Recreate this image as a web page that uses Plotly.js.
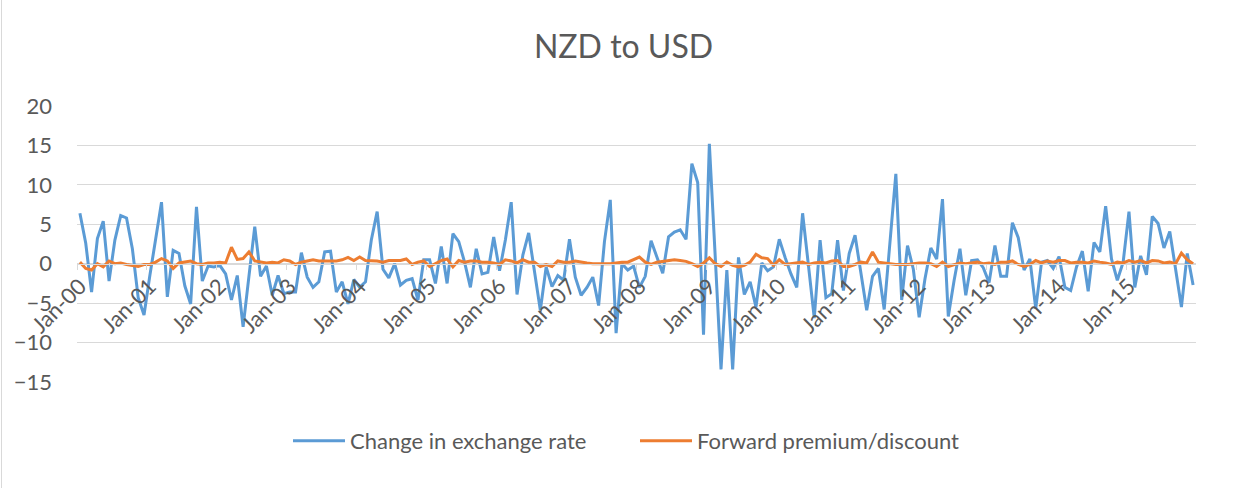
<!DOCTYPE html>
<html>
<head>
<meta charset="utf-8">
<script src="https://cdn.plot.ly/plotly-3.0.1.min.js"></script>
<style>
html,body{margin:0;padding:0;background:#ffffff;}
#wrap{position:relative;width:1247px;height:488px;}
#chart{width:1247px;height:488px;}
#edge{position:absolute;left:1px;top:0;width:1px;height:488px;background:#d9d9d9;pointer-events:none;}
</style>
</head>
<body>
<div id="wrap"><div id="chart"></div><div id="edge"></div></div>
<script>
const monthNames = ['Jan','Feb','Mar','Apr','May','Jun','Jul','Aug','Sep','Oct','Nov','Dec'];
const years = ['00','01','02','03','04','05','06','07','08','09','10','11','12','13','14','15'];
const categories = [];
years.forEach(y => monthNames.forEach(m => categories.push(m + '-' + y)));

const tickLabels = ['Jan-00','Jan-01','Jan-02','Jan-03','Jan-04','Jan-05','Jan-06','Jan-07',
                    'Jan-08','Jan-09','Jan-10','Jan-11','Jan-12','Jan-13','Jan-14','Jan-15'];

const changeInRate = [
  6.4,2.6,-3.6,3.2,5.4,-2.2,3.0,6.1,5.8,1.9,-4.3,-6.5,
  -1.5,3.2,7.8,-4.2,1.7,1.3,-2.8,-5.1,7.2,-2.2,-0.3,-0.4,
  -0.2,-1.3,-4.6,-1.5,-8.0,-1.6,4.7,-1.6,-0.3,-4.0,-1.5,-3.8,
  -3.6,-3.6,1.4,-1.7,-3.0,-2.3,1.5,1.6,-3.6,-2.3,-5.1,-2.0,
  -3.0,-2.3,3.0,6.6,-0.7,-1.8,0.0,-2.7,-2.1,-1.9,-4.6,0.5,
  0.5,-2.5,2.2,-2.5,3.8,2.8,0.2,-3.0,1.9,-1.3,-1.1,3.4,
  -0.9,3.0,7.8,-3.9,1.1,3.9,-0.8,-5.9,-0.4,-2.9,-1.5,-2.1,
  3.1,-1.7,-4.0,-3.0,-1.7,-5.3,2.8,8.1,-8.8,0.0,-0.8,-0.3,
  -3.0,-1.6,2.9,0.9,-1.2,3.4,4.0,4.3,3.1,12.7,10.3,-9.0,
  15.2,1.0,-13.4,-0.8,-13.4,0.8,-3.9,-2.3,-5.5,0.1,-0.9,-0.4,
  3.1,0.8,-1.3,-3.0,6.4,-0.2,-6.9,3.0,-4.3,-3.8,3.0,-3.4,
  1.3,3.6,-1.3,-5.9,-1.6,-0.6,-5.8,3.0,11.4,-4.6,2.3,-0.7,
  -6.8,-1.9,2.0,0.6,8.2,-6.7,-2.1,1.9,-4.0,0.4,0.5,-0.5,
  -2.4,2.3,-1.6,-1.6,5.2,3.3,-0.8,0.6,-5.7,0.2,0.4,-0.6,
  0.9,-3.0,-3.4,-0.4,1.6,-3.5,2.7,1.5,7.3,0.6,-2.1,0.2,
  6.6,-3.0,1.0,-1.4,6.0,5.1,2.0,4.1,-0.6,-5.5,1.3,-2.7
];

const forwardPremium = [
  0.2,-0.6,-0.8,0.0,-0.4,0.35,0.0,0.1,-0.1,-0.2,-0.35,-0.1,
  -0.1,0.2,0.65,0.35,-0.6,0.1,0.2,0.35,0.0,-0.1,0.1,0.1,
  0.2,0.1,2.1,0.55,0.65,1.5,0.35,0.2,0.1,0.2,0.1,0.5,
  0.35,-0.1,0.2,0.35,0.5,0.35,0.35,0.35,0.35,0.5,0.8,0.4,
  0.85,0.4,0.35,0.35,0.2,0.4,0.4,0.4,0.6,-0.1,0.2,0.35,
  -0.35,0.0,0.4,0.6,-0.4,0.4,0.2,0.35,0.35,0.2,0.2,0.1,
  -0.1,0.5,0.35,0.1,0.5,0.2,0.2,-0.35,-0.1,-0.35,0.35,0.2,
  0.2,0.35,0.2,0.1,0.0,0.0,0.0,0.0,0.1,0.2,0.2,0.5,
  0.85,0.2,-0.1,0.2,0.3,0.35,0.5,0.4,0.3,0.0,-0.35,0.1,
  0.75,0.0,-0.35,0.2,-0.2,-0.4,-0.2,0.2,1.2,0.75,0.65,-0.2,
  0.5,-0.1,0.0,0.1,0.2,-0.1,0.1,0.2,0.1,0.35,0.4,-0.35,
  -0.35,-0.1,0.2,0.1,1.5,0.2,0.1,0.0,-0.1,-0.1,-0.1,0.0,
  0.1,0.1,0.0,-0.35,0.2,-0.35,-0.1,0.1,0.0,0.1,0.2,0.0,
  0.1,-0.1,0.2,0.2,0.35,-0.1,-0.35,-0.1,0.4,0.1,0.35,0.2,
  0.4,0.4,0.1,0.2,0.2,0.1,0.35,0.2,0.1,-0.1,0.2,0.1,
  0.4,0.2,0.4,0.1,0.4,0.35,0.1,0.2,0.0,1.35,0.5,0.0
];

const yMin = -15, yMax = 20;
const textColor = '#595959';
const fontFamily = 'Lato, "Open Sans", sans-serif';

const traces = [
  {
    x: categories, y: changeInRate, type: 'scatter', mode: 'lines',
    name: 'Change in exchange rate',
    line: {color: '#5B9BD5', width: 3}
  },
  {
    x: categories, y: forwardPremium, type: 'scatter', mode: 'lines',
    name: 'Forward premium/discount',
    line: {color: '#ED7D31', width: 3}
  }
];

const layout = {
  width: 1247, height: 488,
  paper_bgcolor: '#ffffff', plot_bgcolor: '#ffffff',
  margin: {l: 77, r: 51, t: 106, b: 106, pad: 0},
  font: {family: fontFamily, color: textColor, size: 22},
  title: {
    text: 'NZD to USD',
    font: {family: fontFamily, size: 32, color: textColor, weight: 400},
    x: 0.5, xref: 'container', xanchor: 'center',
    y: 1 - 47/488, yref: 'container', yanchor: 'middle'
  },
  xaxis: {
    type: 'category',
    range: [-0.5, categories.length - 0.5],
    tickmode: 'array', tickvals: tickLabels, ticktext: tickLabels,
    tickangle: -45,
    tickson: 'boundaries',
    ticks: 'outside', ticklen: 5, tickcolor: '#d9d9d9', tickwidth: 1,
    showgrid: false, zeroline: false,
    showline: true, linecolor: '#d9d9d9', linewidth: 1,
    anchor: 'free', position: (0 - yMin) / (yMax - yMin),
    tickfont: {family: fontFamily, size: 22, color: textColor},
    fixedrange: true
  },
  yaxis: {
    range: [yMin, yMax], dtick: 5, tick0: 0,
    showgrid: true, gridcolor: '#d9d9d9', gridwidth: 1.2,
    zeroline: false, showline: false, ticks: '',
    ticklabelstandoff: 24,
    tickfont: {family: fontFamily, size: 22, color: textColor},
    fixedrange: true
  },
  showlegend: true,
  legend: {
    orientation: 'h',
    itemwidth: 52,
    entrywidth: 280, entrywidthmode: 'pixels',
    x: 288/1247, xref: 'container', xanchor: 'left',
    y: 1 - 441/488, yref: 'container', yanchor: 'middle',
    font: {family: fontFamily, size: 22, color: textColor},
    bgcolor: 'rgba(0,0,0,0)'
  }
};

Plotly.newPlot('chart', traces, layout, {staticPlot: true, displayModeBar: false});
</script>
</body>
</html>
